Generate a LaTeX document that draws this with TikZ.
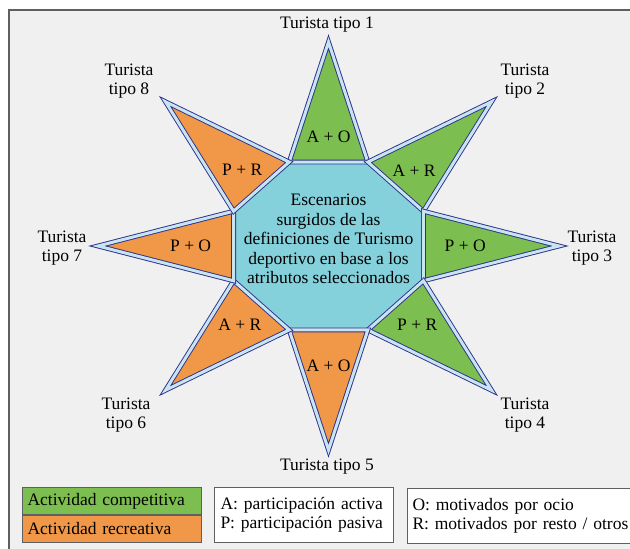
\documentclass[tikz,border=0pt]{standalone}
\usepackage{fontspec}
\setmainfont{Liberation Serif}
\usepackage{xcolor}
\usepackage{tikz}
\usetikzlibrary{positioning}
\definecolor{verde}{RGB}{125,190,80}
\definecolor{naranja}{RGB}{241,151,72}
\definecolor{cian}{RGB}{132,209,220}
\definecolor{marino}{RGB}{44,48,140}
\definecolor{celeste}{RGB}{200,228,240}
\definecolor{fondo}{RGB}{240,240,240}
\definecolor{marco}{RGB}{95,95,95}
\tikzset{
  pico/.style={draw=marino,line width=0.55pt,double=celeste,double distance=1.8pt},
  leyenda/.style={draw=marco,line width=0.6pt,inner xsep=3pt,align=left,anchor=north west,minimum height=16.2pt}
}

\begin{document}
\begin{tikzpicture}[x=0.6pt,y=-0.6pt,font=\fontsize{10.5}{11}\selectfont]
  \useasboundingbox (0,0) rectangle (630,549);
  \clip (0,0) rectangle (630,549);
  \draw[marco,line width=1.2pt,fill=fondo] (9,10) rectangle (660,580);

  \begin{scope}[shift={(328.5,246)},xscale=1.13]
    \foreach \k in {1,...,8}{
      \coordinate (o\k) at ({45*\k-157.5}:90.9);
      \coordinate (p\k) at ({45*\k-135}:204);
    }
    \fill[cian] (o1) -- (o2) -- (o3) -- (o4) -- (o5) -- (o6) -- (o7) -- (o8) -- cycle;
    \foreach \k/\j/\col/\lab/\r in {1/2/verde/{A + O}/109, 2/3/verde/{A + R}/107,
                                    3/4/verde/{P + O}/121, 4/5/verde/{P + R}/111,
                                    5/6/naranja/{A + O}/120, 6/7/naranja/{A + R}/111,
                                    7/8/naranja/{P + O}/122, 8/1/naranja/{P + R}/108}{
      \draw[pico,fill=\col] (o\k) -- (p\k) -- (o\j) -- cycle;
      \node (par\k) at ({45*\k-135}:\r) {\lab};
    }
    \node[align=center,font=\fontsize{10.5}{11.7}\selectfont] (centro) at (0,-7)
      {Escenarios\\surgidos de las\\definiciones de Turismo\\deportivo en base a los\\atributos seleccionados};
  \end{scope}

  % turistas
  \foreach \k/\x/\y/\txt in {1/327/25/{Turista tipo 1}, 2/525/81/{Turista\\tipo 2},
                             3/592/248/{Turista\\tipo 3}, 4/525/415/{Turista\\tipo 4},
                             5/327/467/{Turista tipo 5}, 6/126/415/{Turista\\tipo 6},
                             7/62/248/{Turista\\tipo 7}, 8/129/81/{Turista\\tipo 8}}{
    \node[align=center] (tur\k) at (\x,\y) {\txt};
  }

  % leyenda
  \node[leyenda,fill=verde,text width=101.4pt] (comp) at (22,487) {Actividad competitiva};
  \node[leyenda,fill=naranja,text width=101.4pt] (recr) at (comp.south west) {Actividad recreativa};
  \node[leyenda,fill=white,inner xsep=3.6pt,text width=100.2pt,minimum height=33pt,
        font=\fontsize{10.5}{11.4}\selectfont] (part) at (214,487)
    {A: participación activa\\P: participación pasiva};
  \node[leyenda,fill=white,text width=134pt,minimum height=33pt,
        font=\fontsize{10.5}{11.4}\selectfont] (motiv) at (407,488)
    {O: motivados por ocio\\R: motivados por resto / otros};
\end{tikzpicture}
\end{document}
